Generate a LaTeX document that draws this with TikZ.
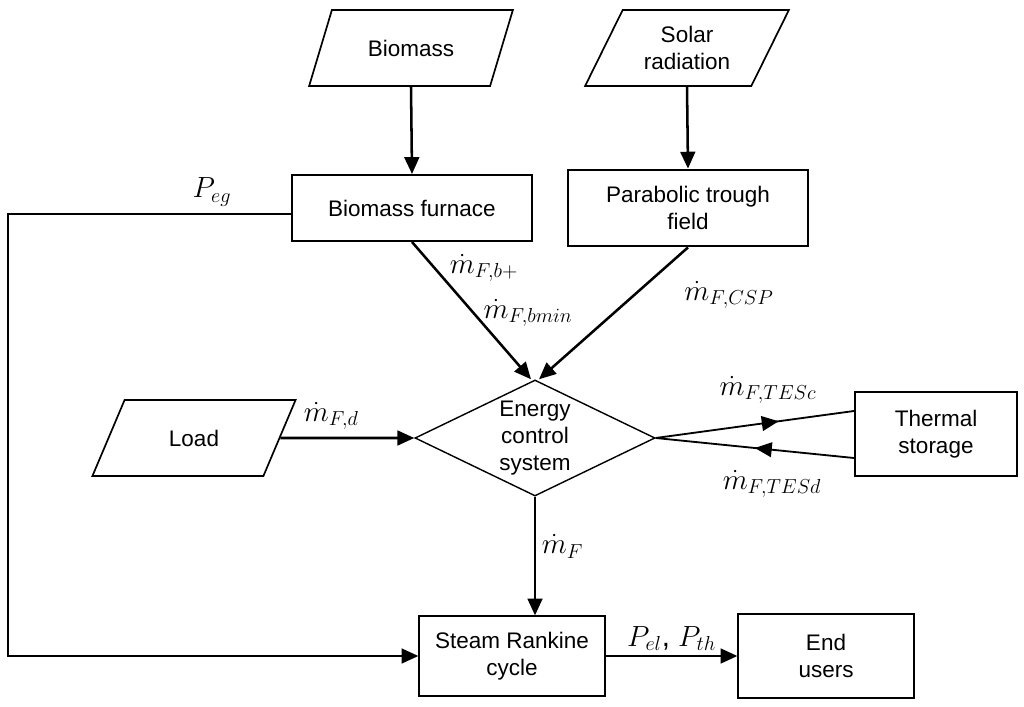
\documentclass[tikz,border=0pt]{standalone}
\usepackage{fontspec}
\setmainfont{Liberation Sans}
\usetikzlibrary{arrows.meta,positioning,shapes.geometric,decorations.markings}
\tikzset{
    %Define standard arrow tip
    >={Triangle[length=12pt,width=10.5pt]},
    %Define style for boxes
    blokk/.style={
           rectangle,
           draw=black,
           line width=1.4pt,
           align=center,
           inner sep=2pt},
    %Define style for input data
    inndata/.style={
           trapezium,
           trapezium left angle=62,
           trapezium right angle=118,
           trapezium stretches=true,
           draw=black,
           line width=1.2pt,
           align=center,
           minimum width=5.1cm,
           minimum height=1.9cm},
    %Define style for the control node
    styring/.style={
           diamond,
           draw=black,
           line width=1pt,
           aspect=2.07,
           inner sep=0pt,
           minimum width=6cm,
           minimum height=2.9cm,
           align=center},
    % Define arrow style
    pil/.style={
           ->,
           line width=1.8pt},
    % Arrow with the tip half way
    midtpil/.style={
           line width=1.3pt,
           postaction={decorate},
           decoration={markings,mark=at position #1 with {\arrow{>}}}},
    % Flow labels
    flyt/.style={font=\fontsize{20}{24}\selectfont, inner sep=1pt},
    effekt/.style={font=\fontsize{21}{25}\selectfont, inner sep=1pt}
}
\begin{document}
\begin{tikzpicture}[x=0.025cm, y=-0.025cm,
    every node/.append style={font=\fontsize{16}{19}\selectfont}]
  \useasboundingbox (0,0) rectangle (1024,707);
  % inputs
  \node[inndata] (biomass) at (411,48) {Biomass};
  \node[inndata] (solar) at (687,48) {Solar\\radiation};
  \node[inndata] (load) at (194,438) {Load};
  % converters
  \node[blokk,minimum width=5.98cm,minimum height=1.65cm] (furnace) at (412,208) {Biomass furnace};
  \node[blokk,minimum width=6cm,minimum height=1.92cm] (ptf) at (688,208) {Parabolic trough\\field};
  \node[styring] (ecs) at (535,438) {Energy\\control\\system};
  \node[blokk,minimum width=4.05cm,minimum height=2.1cm] (tes) at (936,434) {Thermal\\storage};
  \node[blokk,minimum width=4.63cm,minimum height=1.98cm] (src) at (512,656) {Steam Rankine\\cycle};
  \node[blokk,minimum width=4.38cm,minimum height=2.08cm] (users) at (826,656) {End\\users};
  \coordinate (hjorne) at (8,656);

  % flows
  \draw[pil] (biomass.south -| biomass.center) -- (furnace.north);
  \draw[pil] (solar.south -| solar.center) -- (ptf.north);
  \draw[pil] (furnace.south) -- ([xshift=-0.1cm]ecs.north);
  \draw[pil] (ptf.south) -- ([xshift=0.1cm]ecs.north);
  \draw[pil] (load.east) -- node[flyt,above=4pt,pos=0.38] {$\dot m_{F,d}$} (ecs.west);
  \draw[midtpil=0.62] (ecs.east) -- ([yshift=0.575cm]tes.west);
  \draw[midtpil=0.5] ([yshift=-0.6cm]tes.west) -- (ecs.east);
  \draw[pil] (ecs.south) -- node[flyt,right=3pt,pos=0.42] {$\dot m_F$} (ecs.south |- src.north);
  \draw[pil] (src.east) -- node[effekt,above=2pt,pos=0.5] {$P_{el}$, $P_{th}$} (users.west);
  \draw[pil] ([yshift=-0.15cm]furnace.west) -| (hjorne) -- (src.west);

  % labels
  \node[effekt] (peg) at (212,192) {$P_{eg}$};
  \node[flyt] (mbp) at (484,268) {$\dot m_{F,b+}$};
  \node[flyt] (mbmin) at (528,313) {$\dot m_{F,bmin}$};
  \node[flyt] (mcsp) at (729,295) {$\dot m_{F,CSP}$};
  \node[flyt] (mtesc) at (768,390) {$\dot m_{F,TESc}$};
  \node[flyt] (mtesd) at (772,484) {$\dot m_{F,TESd}$};
\end{tikzpicture}
\end{document}
